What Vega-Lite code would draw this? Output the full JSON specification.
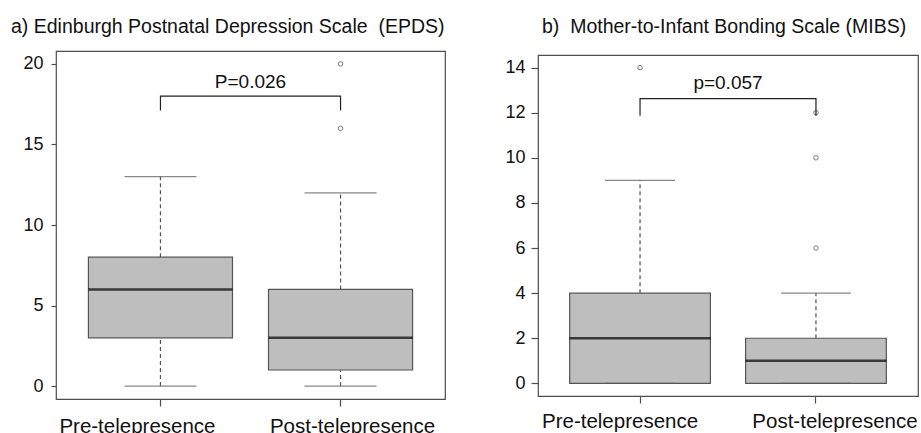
{
  "$schema": "https://vega.github.io/schema/vega-lite/v6.json",
  "background": "white",
  "padding": {"left": 10, "top": 15, "right": 0, "bottom": 0},
  "spacing": 58,
  "config": {
    "font": "Liberation Sans",
    "view": {"stroke": "#4d4d4d", "strokeWidth": 1.2},
    "axis": {"labelFont": "Liberation Sans", "labelFontSize": 18, "labelColor": "#111", "tickColor": "#4d4d4d", "tickWidth": 1.2, "domain": false, "grid": false, "title": null},
    "title": {"font": "Liberation Sans", "fontSize": 19.5, "fontWeight": "normal", "color": "#111", "anchor": "start", "frame": "group"}
  },
  "datasets": {
    "boxA": [
      {"group": "Pre-telepresence", "lo": 0, "q1": 3, "med": 6, "q3": 8, "hi": 13},
      {"group": "Post-telepresence", "lo": 0, "q1": 1, "med": 3, "q3": 6, "hi": 12}
    ],
    "outA": [
      {"group": "Post-telepresence", "value": 16},
      {"group": "Post-telepresence", "value": 20}
    ],
    "brA": [
      {"group": "Pre-telepresence", "value": 17.1, "o": 1},
      {"group": "Pre-telepresence", "value": 18, "o": 2},
      {"group": "Post-telepresence", "value": 18, "o": 3},
      {"group": "Post-telepresence", "value": 17.1, "o": 4}
    ],
    "txtA": [{"group": "Pre-telepresence", "value": 18.5, "text": "P=0.026"}],
    "boxB": [
      {"group": "Pre-telepresence", "lo": 0, "q1": 0, "med": 2, "q3": 4, "hi": 9},
      {"group": "Post-telepresence", "lo": 0, "q1": 0, "med": 1, "q3": 2, "hi": 4}
    ],
    "outB": [
      {"group": "Pre-telepresence", "value": 14},
      {"group": "Post-telepresence", "value": 12},
      {"group": "Post-telepresence", "value": 10},
      {"group": "Post-telepresence", "value": 6}
    ],
    "brB": [
      {"group": "Pre-telepresence", "value": 11.87, "o": 1},
      {"group": "Pre-telepresence", "value": 12.63, "o": 2},
      {"group": "Post-telepresence", "value": 12.63, "o": 3},
      {"group": "Post-telepresence", "value": 11.87, "o": 4}
    ],
    "txtB": [{"group": "Pre-telepresence", "value": 13.07, "text": "p=0.057"}]
  },
  "hconcat": [
    {
      "title": {"text": "a) Edinburgh Postnatal Depression Scale\u00a0 (EPDS)", "dx": -45, "offset": 14},
      "width": 389,
      "height": 348,
      "encoding": {
        "x": {"field": "group", "type": "nominal", "sort": ["Pre-telepresence", "Post-telepresence"], "scale": {"paddingInner": 0, "paddingOuter": 0.08},
              "axis": {"labelAngle": 0, "tickSize": 7, "labelPadding": 10, "labelFontSize": 20.5, "labelOffset": {"condition": {"test": "datum.value === 'Pre-telepresence'", "value": -23}, "value": 12}}}
      },
      "layer": [
        {"data": {"name": "boxA"}, "mark": {"type": "rule", "strokeDash": [4, 3], "color": "#555", "strokeWidth": 1.2},
         "encoding": {"x": {"field": "group", "type": "nominal", "bandPosition": 0.5}, "y": {"field": "q3", "type": "quantitative", "scale": {"domain": [-0.8, 20.8], "nice": false, "zero": false}, "axis": {"values": [0, 5, 10, 15, 20], "tickSize": 5, "labelPadding": 8}}, "y2": {"field": "hi"}}},
        {"data": {"name": "boxA"}, "mark": {"type": "rule", "strokeDash": [4, 3], "color": "#555", "strokeWidth": 1.2},
         "encoding": {"x": {"field": "group", "type": "nominal", "bandPosition": 0.5}, "y": {"field": "lo", "type": "quantitative"}, "y2": {"field": "q1"}}},
        {"data": {"name": "boxA"}, "mark": {"type": "bar", "width": {"band": 0.8}, "fill": "#bebebe", "stroke": "#555", "strokeWidth": 1.2},
         "encoding": {"y": {"field": "q1", "type": "quantitative"}, "y2": {"field": "q3"}}},
        {"data": {"name": "boxA"}, "mark": {"type": "tick", "color": "#000", "thickness": 2.5, "size": 144},
         "encoding": {"x": {"field": "group", "type": "nominal", "bandPosition": 0.5}, "y": {"field": "med", "type": "quantitative"}}},
        {"data": {"name": "boxA"}, "mark": {"type": "tick", "color": "#555", "thickness": 1.2, "size": 72},
         "encoding": {"x": {"field": "group", "type": "nominal", "bandPosition": 0.5}, "y": {"field": "hi", "type": "quantitative"}}},
        {"data": {"name": "boxA"}, "mark": {"type": "tick", "color": "#555", "thickness": 1.2, "size": 72},
         "encoding": {"x": {"field": "group", "type": "nominal", "bandPosition": 0.5}, "y": {"field": "lo", "type": "quantitative"}}},
        {"data": {"name": "outA"}, "mark": {"type": "point", "shape": "circle", "size": 20, "stroke": "#444", "strokeWidth": 1, "filled": false},
         "encoding": {"x": {"field": "group", "type": "nominal", "bandPosition": 0.5}, "y": {"field": "value", "type": "quantitative"}}},
        {"data": {"name": "brA"}, "mark": {"type": "line", "color": "#222", "strokeWidth": 1.2},
         "encoding": {"x": {"field": "group", "type": "nominal", "bandPosition": 0.5}, "y": {"field": "value", "type": "quantitative"}, "order": {"field": "o", "type": "quantitative"}}},
        {"data": {"name": "txtA"}, "mark": {"type": "text", "fontSize": 19, "align": "center", "baseline": "alphabetic", "color": "#111"},
         "encoding": {"x": {"field": "group", "type": "nominal", "bandPosition": 1}, "y": {"field": "value", "type": "quantitative"}, "text": {"field": "text"}}}
      ]
    },
    {
      "title": {"text": "b)\u00a0 Mother-to-Infant Bonding Scale (MIBS)", "dx": 4, "offset": 14},
      "spacing": 2,
      "vconcat": [
        {
          "width": 380,
          "height": 1,
          "view": {"stroke": null},
          "data": {"values": []},
          "mark": {"type": "point"},
          "encoding": {}
        },
        {
          "width": 380,
          "height": 341,
          "encoding": {
            "x": {"field": "group", "type": "nominal", "sort": ["Pre-telepresence", "Post-telepresence"], "scale": {"paddingInner": 0, "paddingOuter": 0.08},
                  "axis": {"labelAngle": 0, "tickSize": 7, "labelPadding": 8, "labelFontSize": 20.5, "labelOffset": {"condition": {"test": "datum.value === 'Pre-telepresence'", "value": -20}, "value": 19}}}
          },
          "layer": [
            {"data": {"name": "boxB"}, "mark": {"type": "rule", "strokeDash": [4, 3], "color": "#555", "strokeWidth": 1.2},
             "encoding": {"x": {"field": "group", "type": "nominal", "bandPosition": 0.5}, "y": {"field": "q3", "type": "quantitative", "scale": {"domain": [-0.56, 14.56], "nice": false, "zero": false}, "axis": {"values": [0, 2, 4, 6, 8, 10, 12, 14], "tickSize": 7, "labelPadding": 6}}, "y2": {"field": "hi"}}},
            {"data": {"name": "boxB"}, "mark": {"type": "rule", "strokeDash": [4, 3], "color": "#555", "strokeWidth": 1.2},
             "encoding": {"x": {"field": "group", "type": "nominal", "bandPosition": 0.5}, "y": {"field": "lo", "type": "quantitative"}, "y2": {"field": "q1"}}},
            {"data": {"name": "boxB"}, "mark": {"type": "bar", "width": {"band": 0.8}, "fill": "#bebebe", "stroke": "#555", "strokeWidth": 1.2},
             "encoding": {"y": {"field": "q1", "type": "quantitative"}, "y2": {"field": "q3"}}},
            {"data": {"name": "boxB"}, "mark": {"type": "tick", "color": "#000", "thickness": 2.5, "size": 141},
             "encoding": {"x": {"field": "group", "type": "nominal", "bandPosition": 0.5}, "y": {"field": "med", "type": "quantitative"}}},
            {"data": {"name": "boxB"}, "mark": {"type": "tick", "color": "#555", "thickness": 1.2, "size": 70},
             "encoding": {"x": {"field": "group", "type": "nominal", "bandPosition": 0.5}, "y": {"field": "hi", "type": "quantitative"}}},
            {"data": {"name": "boxB"}, "mark": {"type": "tick", "color": "#555", "thickness": 1.2, "size": 70},
             "encoding": {"x": {"field": "group", "type": "nominal", "bandPosition": 0.5}, "y": {"field": "lo", "type": "quantitative"}}},
            {"data": {"name": "outB"}, "mark": {"type": "point", "shape": "circle", "size": 20, "stroke": "#444", "strokeWidth": 1, "filled": false},
             "encoding": {"x": {"field": "group", "type": "nominal", "bandPosition": 0.5}, "y": {"field": "value", "type": "quantitative"}}},
            {"data": {"name": "brB"}, "mark": {"type": "line", "color": "#222", "strokeWidth": 1.2},
             "encoding": {"x": {"field": "group", "type": "nominal", "bandPosition": 0.5}, "y": {"field": "value", "type": "quantitative"}, "order": {"field": "o", "type": "quantitative"}}},
            {"data": {"name": "txtB"}, "mark": {"type": "text", "fontSize": 19, "align": "center", "baseline": "alphabetic", "color": "#111"},
             "encoding": {"x": {"field": "group", "type": "nominal", "bandPosition": 1}, "y": {"field": "value", "type": "quantitative"}, "text": {"field": "text"}}}
          ]
        }
      ]
    }
  ]
}
